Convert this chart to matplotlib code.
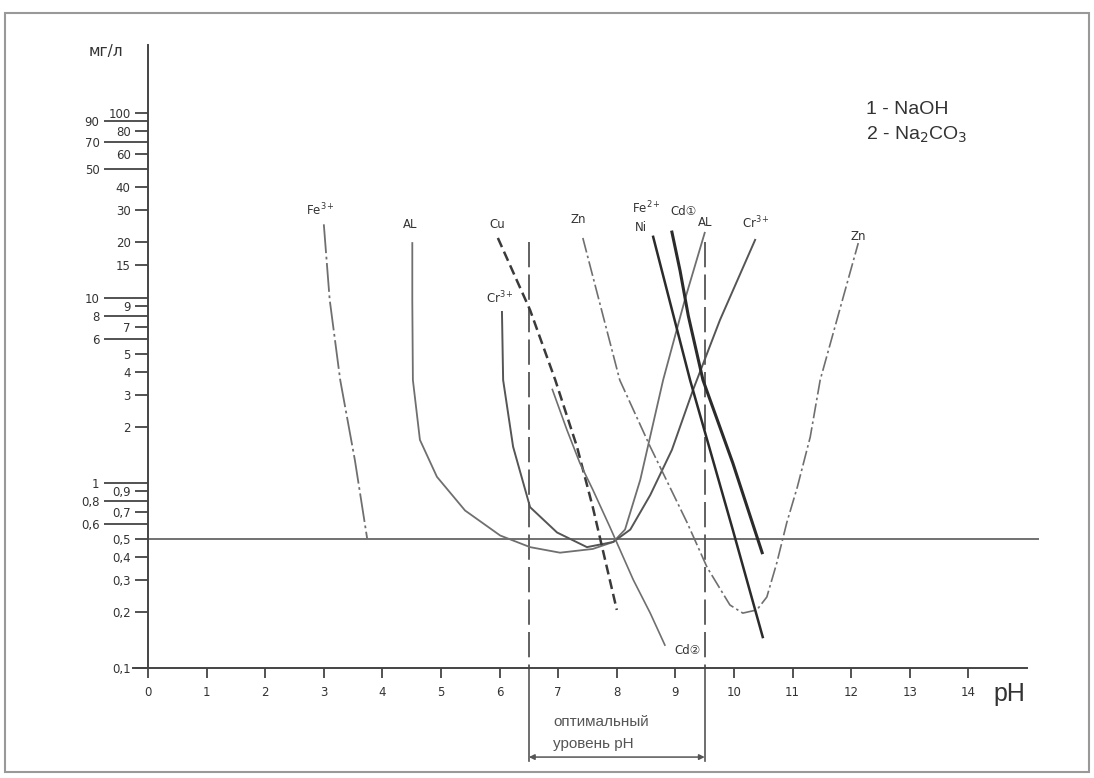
import matplotlib
matplotlib.use("Agg")
import matplotlib.pyplot as plt
from matplotlib.patches import Rectangle

# solubility of metal hydroxides vs pH, mg/l on a log axis
fe3_ph = [3.0, 3.1, 3.28, 3.53, 3.74]
fe3_c = [25, 9.8, 3.6, 1.33, 0.5]

al_ph = [4.51, 4.51, 4.52, 4.64, 4.93, 5.41, 6.01, 6.52, 7.03, 7.59, 7.94, 8.14, 8.4, 8.79, 9.16, 9.5]
al_c = [19.8, 9.75, 3.6, 1.71, 1.08, 0.71, 0.52, 0.45, 0.42, 0.44, 0.48, 0.56, 1.04, 3.6, 9.75, 22.5]

cr_ph = [6.04, 6.06, 6.23, 6.52, 6.98, 7.49, 7.94, 8.23, 8.57, 8.94, 9.30, 9.76, 10.36]
cr_c = [8.4, 3.6, 1.57, 0.74, 0.54, 0.45, 0.48, 0.56, 0.86, 1.51, 3.18, 7.6, 20.6]

cu_ph = [5.97, 6.52, 6.95, 7.32, 7.59, 7.83, 8.0]
cu_c = [21.1, 8.6, 3.6, 1.57, 0.74, 0.35, 0.206]

zn_ph = [7.42, 8.05, 8.57, 9.2, 9.54, 9.93, 10.15, 10.39, 10.56, 10.73, 10.9, 11.08, 11.3, 11.47, 12.12]
zn_c = [21.1, 3.6, 1.57, 0.61, 0.35, 0.219, 0.198, 0.206, 0.242, 0.37, 0.61, 0.95, 1.77, 3.6, 19.8]

fe2_ph = [8.62, 9.25, 9.59, 9.98, 10.49]
fe2_c = [21.4, 3.6, 1.51, 0.557, 0.147]

cd1_ph = [8.94, 9.08, 9.22, 9.47, 9.98, 10.48]
cd1_c = [22.7, 14.0, 8.0, 3.6, 1.28, 0.42]

cd2_ph = [6.9, 7.15, 7.37, 7.59, 7.88, 8.28, 8.57, 8.82]
cd2_c = [3.2, 1.93, 1.28, 0.92, 0.58, 0.30, 0.198, 0.133]

opt_low, opt_high = 6.5, 9.5
limit_c = 0.5

short_ticks = [100, 80, 60, 40, 30, 20, 15, 9, 7, 5, 4, 3, 2, 0.9, 0.7, 0.5, 0.4, 0.3, 0.2, 0.1]
short_labels = ["100", "80", "60", "40", "30", "20", "15", "9", "7", "5", "4", "3", "2",
                "0,9", "0,7", "0,5", "0,4", "0,3", "0,2", "0,1"]
long_ticks = [90, 70, 50, 10, 8, 6, 1, 0.8, 0.6]
long_labels = ["90", "70", "50", "10", "8", "6", "1", "0,8", "0,6"]
ph_ticks = list(range(15))

NARROW = ["Liberation Sans Narrow", "DejaVu Sans"]
ARIAL = ["Liberation Sans", "DejaVu Sans"]
GRAY = "#6f6f6f"
DARK = "#2b2b2b"

fig = plt.figure(figsize=(10.94, 7.78), dpi=100)
ax = fig.add_axes([0.1219, 0.1414, 0.8276, 0.8008])
ax.set_yscale("log")
ax.set_xlim(-0.25, 15.2)
ax.set_ylim(0.1, 233)

for s in ["top", "right"]:
    ax.spines[s].set_visible(False)
ax.spines["left"].set_position(("data", 0))
ax.spines["bottom"].set_bounds(-0.25, 15.0)
for s in ["left", "bottom"]:
    ax.spines[s].set_color("#444")
    ax.spines[s].set_linewidth(1.4)

ax.set_yticks(short_ticks, short_labels)
ax.set_yticks(long_ticks, long_labels, minor=True)
ax.tick_params(axis="y", which="major", direction="out", length=9.5, width=1.3, pad=3,
               color="#444", labelcolor="#333", labelsize=8.5)
ax.tick_params(axis="y", which="minor", direction="out", length=32, width=1.3, pad=3,
               color="#444", labelcolor="#333", labelsize=8.5)
ax.set_xticks(ph_ticks, [str(t) for t in ph_ticks])
ax.xaxis.set_minor_locator(plt.NullLocator())
ax.tick_params(axis="x", direction="out", length=7, width=1.3, pad=6,
               color="#444", labelcolor="#333", labelsize=8.5)
for lab in ax.get_xticklabels() + ax.get_yticklabels() + ax.get_yticklabels(minor=True):
    lab.set_family(NARROW)

# 0.5 mg/l limit
ax.axhline(limit_c, xmin=0.25 / 15.45, xmax=1, color="#666", lw=1.3)

# optimal pH band
for p in (opt_low, opt_high):
    ax.plot([p, p], [20, 0.1], color="#555", lw=1.3, dashes=(14, 4))
    ax.plot([p, p], [0.1, 0.0315], color="#555", lw=1.2, clip_on=False)
ax.annotate("", xy=(opt_high, 0.033), xytext=(opt_low, 0.033),
            arrowprops=dict(arrowstyle="<|-|>", color="#555", lw=1.1,
                            mutation_scale=8, shrinkA=0, shrinkB=0),
            annotation_clip=False)
ax.text(6.91, 0.0511, "оптимальный", color="#555", fontsize=11, va="center",
        family=ARIAL, clip_on=False)
ax.text(6.91, 0.0388, "уровень pH", color="#555", fontsize=11, va="center",
        family=ARIAL, clip_on=False)

# curves
ax.plot(fe3_ph, fe3_c, color=GRAY, lw=1.3, dashes=(16, 2, 1.5, 2))
ax.plot(al_ph, al_c, color=GRAY, lw=1.3)
ax.plot(cr_ph, cr_c, color="#555", lw=1.4)
ax.plot(cu_ph, cu_c, color="#3a3a3a", lw=1.8, dashes=(4, 2))
ax.plot(zn_ph, zn_c, color=GRAY, lw=1.2, dashes=(9, 2, 1.5, 2))
ax.plot(cd2_ph, cd2_c, color=GRAY, lw=1.2)
ax.plot(fe2_ph, fe2_c, color=DARK, lw=1.8)
ax.plot(cd1_ph, cd1_c, color=DARK, lw=2.2)

curve_labels = [
    (2.94, 29.9, "Fe$^{3+}$"), (4.47, 24.8, "AL"), (5.96, 24.8, "Cu"),
    (6.0, 10.0, "Cr$^{3+}$"), (7.34, 26.4, "Zn"), (8.5, 30.5, "Fe$^{2+}$"),
    (8.41, 23.9, "Ni"), (9.13, 29.2, "Cd①"), (9.5, 25.5, "AL"),
    (10.38, 25.5, "Cr$^{3+}$"), (12.12, 21.4, "Zn"), (9.2, 0.125, "Cd②"),
]
for x, y, t in curve_labels:
    ax.text(x, y, t, ha="center", va="center", fontsize=8.5, color="#333",
            family=NARROW)

ax.text(-0.72, 215, "мг/л", fontsize=11, color="#333", ha="center", va="center",
        family=NARROW, clip_on=False)
ax.text(14.7, 0.072, "pH", fontsize=18, color="#333", ha="center", va="center",
        family=ARIAL, clip_on=False)
ax.text(12.25, 104, "1 - NaOH", fontsize=14, color="#333", va="center", family=ARIAL)
ax.text(12.25, 76, "2 - Na$_2$CO$_3$", fontsize=14, color="#333", va="center",
        family=ARIAL)

fig.patches.append(Rectangle((5 / 1094, 1 - 772 / 778), 1 - 10 / 1094, 1 - 19 / 778,
                             transform=fig.transFigure, fill=False,
                             edgecolor="#999", lw=1.5))

fig.savefig("out.png", dpi=100)
